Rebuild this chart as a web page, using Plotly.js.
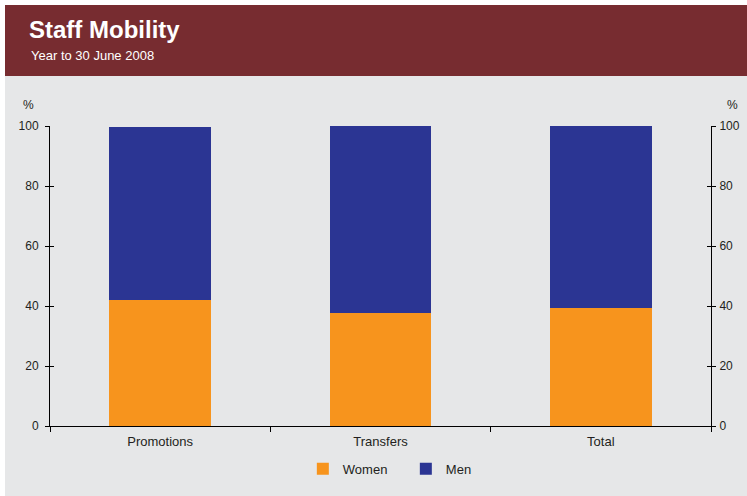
<!DOCTYPE html>
<html>
<head>
<meta charset="utf-8">
<script src="https://cdn.plot.ly/plotly-3.0.1.min.js"></script>
<style>
  html, body { margin: 0; padding: 0; background: #ffffff; }
  #chart { position: absolute; left: 5px; top: 5px; width: 742px; height: 491px; }
</style>
</head>
<body>
<div id="chart"></div>
<script>
const categories = ["Promotions", "Transfers", "Total"];
const women = [42.0, 37.8, 39.2];
const men = [57.7, 62.2, 60.8];
const seriesNames = ["Women", "Men"];
const yTicks = [0, 20, 40, 60, 80, 100];

const txt = "#231F20";
const font = "Arial, 'Liberation Sans', sans-serif";

const traces = [
  { type: "bar", name: seriesNames[0], x: categories, y: women, marker: { color: "#F7941D", line: { width: 0 } }, hoverinfo: "skip" },
  { type: "bar", name: seriesNames[1], x: categories, y: men, marker: { color: "#2B3593", line: { width: 0 } }, hoverinfo: "skip" },
  { type: "scatter", x: [], y: [], yaxis: "y2", showlegend: false },
  { type: "scatter", x: [], y: [], yaxis: "y3", showlegend: false },
  { type: "scatter", x: [], y: [], yaxis: "y4", showlegend: false }
];

const yBase = { range: [0, 100], tickvals: yTicks, ticklen: 4, tickcolor: "#000", tickwidth: 1, showgrid: false, zeroline: false, fixedrange: true, tickfont: { size: 12, color: txt, family: font } };

const layout = {
  width: 742, height: 491,
  paper_bgcolor: "#E6E7E8", plot_bgcolor: "#E6E7E8",
  margin: { l: 45, r: 36, t: 121, b: 70 },
  barmode: "stack", bargap: 0.54,
  font: { family: font, color: txt, size: 12 },
  showlegend: true,
  legend: { orientation: "h", x: 0.3825, xanchor: "left", y: -0.143, yanchor: "middle", entrywidth: 58, font: { size: 13, color: txt, family: font }, bgcolor: "rgba(0,0,0,0)", traceorder: "normal" },
  xaxis: { type: "category", categoryarray: categories, tickson: "boundaries", ticks: "outside", ticklen: 5, tickcolor: "#000", showline: true, linecolor: "#000", linewidth: 1, showgrid: false, fixedrange: true, ticklabelstandoff: 3, tickfont: { size: 13, color: txt, family: font } },
  yaxis: Object.assign({}, yBase, { ticks: "outside", showline: true, linecolor: "#000", linewidth: 1, showticklabels: true, ticklabelstandoff: 4 }),
  yaxis2: Object.assign({}, yBase, { overlaying: "y", side: "left", ticks: "inside", showline: false, showticklabels: false }),
  yaxis3: Object.assign({}, yBase, { overlaying: "y", side: "right", ticks: "outside", showline: true, linecolor: "#000", linewidth: 1, showticklabels: true, ticklabelstandoff: 1 }),
  yaxis4: Object.assign({}, yBase, { overlaying: "y", side: "right", ticks: "inside", showline: false, showticklabels: false }),
  shapes: [
    { type: "rect", xref: "paper", yref: "paper", x0: -0.07, x1: 1.06, y0: 1.1667, y1: 1.41, fillcolor: "#772C30", line: { width: 0 }, layer: "below" }
  ],
  annotations: [
    { xref: "paper", yref: "paper", x: -0.0348, y: 1.323, xanchor: "left", yanchor: "middle", text: "<b>Staff Mobility</b>", showarrow: false, font: { size: 24, color: "#ffffff", family: font } },
    { xref: "paper", yref: "paper", x: -0.0318, y: 1.235, xanchor: "left", yanchor: "middle", text: "Year to 30 June 2008", showarrow: false, font: { size: 13, color: "#ffffff", family: font } },
    { xref: "paper", yref: "paper", x: -0.033, y: 1.07, xanchor: "center", yanchor: "middle", text: "%", showarrow: false, font: { size: 12, color: txt, family: font } },
    { xref: "paper", yref: "paper", x: 1.032, y: 1.07, xanchor: "center", yanchor: "middle", text: "%", showarrow: false, font: { size: 12, color: txt, family: font } }
  ]
};

Plotly.newPlot("chart", traces, layout, { displayModeBar: false, staticPlot: true });
</script>
</body>
</html>
